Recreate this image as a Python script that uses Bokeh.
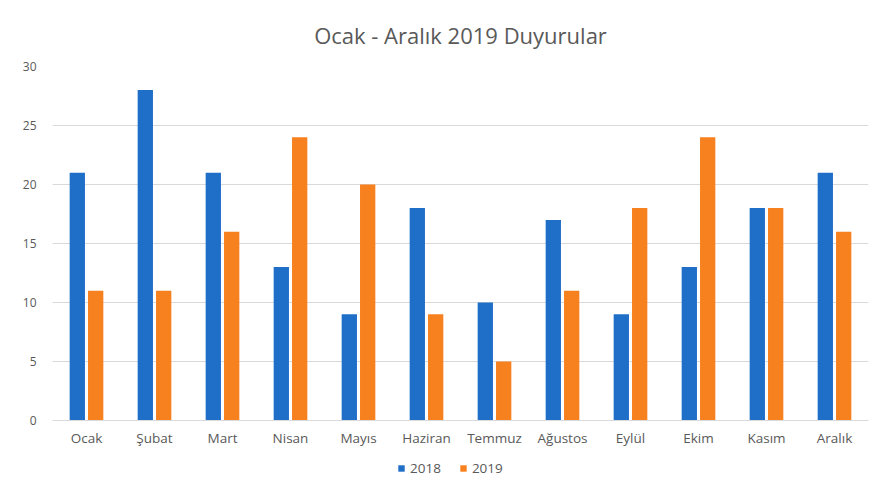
from bokeh.plotting import figure
from bokeh.layouts import column
from bokeh.models import FactorRange, Range1d, Legend, LegendItem, ColumnDataSource, FixedTicker
from bokeh.transform import dodge
from bokeh.embed import file_html
from bokeh.resources import INLINE

months = ["Ocak", "Şubat", "Mart", "Nisan", "Mayıs", "Haziran", "Temmuz",
          "Ağustos", "Eylül", "Ekim", "Kasım", "Aralık"]
y2018 = [21, 28, 21, 13, 9, 18, 10, 17, 9, 13, 18, 21]
y2019 = [11, 11, 16, 24, 20, 9, 5, 11, 18, 24, 18, 16]
series = ["2018", "2019"]
y_ticks = [0, 5, 10, 15, 20, 25, 30]
title_text = "Ocak - Aralık 2019 Duyurular"

BLUE = "#1F6FC8"
ORANGE = "#F7811E"
TXT = "#595959"
FONT = "Open Sans"

src = ColumnDataSource(dict(month=months, a=y2018, b=y2019))

p = figure(width=876, height=450, x_range=FactorRange(*months), y_range=Range1d(0, 30),
           output_backend="svg", toolbar_location=None,
           min_border_left=52, min_border_right=8, min_border_top=66, min_border_bottom=30)

r1 = p.vbar(x=dodge("month", -0.135, range=p.x_range), top="a", width=0.225, source=src,
            color=BLUE, line_color=None)
r2 = p.vbar(x=dodge("month", 0.135, range=p.x_range), top="b", width=0.225, source=src,
            color=ORANGE, line_color=None)

p.title.text = title_text
p.title.align = "center"
p.title.offset = -13
p.title.text_font = FONT
p.title.text_font_size = "22px"
p.title.text_font_style = "normal"
p.title.text_color = TXT
p.title.standoff = 34

p.outline_line_color = None
p.xgrid.grid_line_color = None
p.ygrid.grid_line_color = "#d9d9d9"
p.ygrid.grid_line_width = 1

p.yaxis.ticker = FixedTicker(ticks=y_ticks)
p.yaxis.axis_line_color = None
p.yaxis.major_tick_line_color = None
p.yaxis.minor_tick_line_color = None
p.yaxis.major_label_text_font = FONT
p.yaxis.major_label_text_font_size = "12px"
p.yaxis.major_label_text_color = TXT
p.yaxis.major_label_standoff = 10

p.xaxis.axis_line_color = "#d9d9d9"
p.xaxis.major_tick_line_color = None
p.xaxis.minor_tick_line_color = None
p.xaxis.major_tick_out = 0
p.xaxis.major_label_text_font = FONT
p.xaxis.major_label_text_font_size = "13.5px"
p.xaxis.major_label_text_color = TXT
p.xaxis.major_label_standoff = 8

# legend strip below the chart (its key renderers have zero height and lie off-range)
lg = figure(width=876, height=32, x_range=FactorRange(*months), y_range=Range1d(1000, 1001),
            output_backend="svg", toolbar_location=None, min_border=0)
lg.axis.visible = False
lg.grid.visible = False
lg.outline_line_color = None
k1 = lg.vbar(x=dodge("month", -0.135, range=lg.x_range), top="a", bottom="a", width=0.225,
             source=src, color=BLUE, line_color=None)
k2 = lg.vbar(x=dodge("month", 0.135, range=lg.x_range), top="b", bottom="b", width=0.225,
             source=src, color=ORANGE, line_color=None)

legend = Legend(items=[LegendItem(label=series[0], renderers=[k1]),
                       LegendItem(label=series[1], renderers=[k2])],
                orientation="horizontal", location=(345, 5),
                glyph_width=8, glyph_height=8, label_text_font=FONT,
                label_text_font_size="13.5px", label_text_color=TXT,
                padding=2, margin=0, spacing=18, label_standoff=5,
                border_line_color=None, background_fill_alpha=0)
lg.add_layout(legend)

layout = column(p, lg, spacing=0)
open("out.html", "w").write(file_html(layout, INLINE))
